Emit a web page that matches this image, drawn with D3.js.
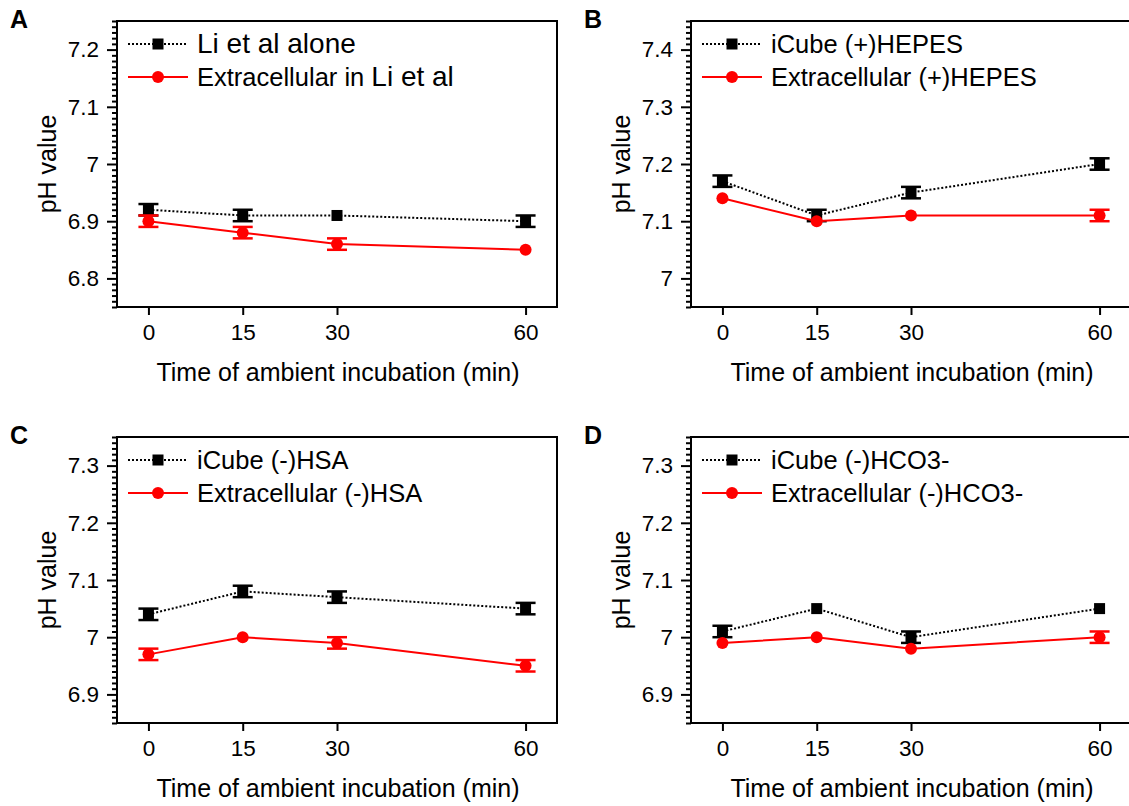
<!DOCTYPE html>
<html>
<head>
<meta charset="utf-8">
<script src="https://cdn.jsdelivr.net/npm/d3@7"></script>
<style>
  body { margin: 0; background: #fff; }
  svg { display: block; }
  text { font-family: "Liberation Sans", Arial, sans-serif; fill: #000; }
</style>
</head>
<body>
<svg id="fig" width="1129" height="806"></svg>
<script>
// Sampling times (min)
const times = [0, 15, 30, 60];

// Panel letters, legend names and y ranges
const panelLetters = ["A", "B", "C", "D"];
const cellNames = ["Li et al alone", "iCube (+)HEPES", "iCube (-)HSA", "iCube (-)HCO3-"];
const mediumNames = ["Extracellular in Li et al", "Extracellular (+)HEPES", "Extracellular (-)HSA", "Extracellular (-)HCO3-"];
const yLow = [6.75, 6.95, 6.85, 6.85];
const yHigh = [7.25, 7.45, 7.35, 7.35];

// pH means and error bars for each condition
const cellA = [6.92, 6.91, 6.91, 6.90];
const cellAErr = [0.01, 0.01, 0, 0.01];
const mediumA = [6.90, 6.88, 6.86, 6.85];
const mediumAErr = [0.01, 0.01, 0.01, 0];

const cellB = [7.17, 7.11, 7.15, 7.20];
const cellBErr = [0.01, 0.01, 0.01, 0.01];
const mediumB = [7.14, 7.10, 7.11, 7.11];
const mediumBErr = [0, 0, 0, 0.01];

const cellC = [7.04, 7.08, 7.07, 7.05];
const cellCErr = [0.01, 0.01, 0.01, 0.01];
const mediumC = [6.97, 7.00, 6.99, 6.95];
const mediumCErr = [0.01, 0, 0.01, 0.01];

const cellD = [7.01, 7.05, 7.00, 7.05];
const cellDErr = [0.01, 0, 0.01, 0];
const mediumD = [6.99, 7.00, 6.98, 7.00];
const mediumDErr = [0, 0, 0, 0.01];

const xTitle = "Time of ambient incubation (min)";
const yTitle = "pH value";

const cellSeries = [cellA, cellB, cellC, cellD];
const cellErrs = [cellAErr, cellBErr, cellCErr, cellDErr];
const mediumSeries = [mediumA, mediumB, mediumC, mediumD];
const mediumErrs = [mediumAErr, mediumBErr, mediumCErr, mediumDErr];

// Layout
const panelOrigins = [[117, 21], [691, 21], [117, 437], [691, 437]];
const PW = 440, PH = 286;
const RED = "#ff0000";
const fmt = d => String(+d.toFixed(2));

const svg = d3.select("#fig");
svg.append("rect").attr("width", 1129).attr("height", 806).attr("fill", "#fff");

panelLetters.forEach((letter, i) => {
  const [ox, oy] = panelOrigins[i];
  const g = svg.append("g").attr("transform", `translate(${ox},${oy})`);

  const x = d3.scaleLinear().domain([-5, 65]).range([0, PW]);
  const y = d3.scaleLinear().domain([yLow[i], yHigh[i]]).range([PH, 0]);

  // Panel letter
  svg.append("text")
    .attr("x", ox - 107).attr("y", oy + 7)
    .attr("font-size", 25).attr("font-weight", "bold")
    .text(letter);

  // Y ticks: majors every 0.1, minors every 0.01
  const major = d3.range(Math.ceil(yLow[i] * 10 - 1e-9), Math.floor(yHigh[i] * 10 + 1e-9) + 1).map(v => v / 10);
  const minor = d3.range(Math.round(yLow[i] * 100), Math.round(yHigh[i] * 100) + 1)
    .map(v => v / 100)
    .filter(v => !major.some(m => Math.abs(m - v) < 1e-9));

  const yMinor = g.append("g").call(d3.axisLeft(y).tickValues(minor).tickSize(5).tickFormat(""));
  const yMajor = g.append("g").call(d3.axisLeft(y).tickValues(major).tickSize(10).tickPadding(8).tickFormat(fmt));
  [yMinor, yMajor].forEach(a => {
    a.select(".domain").remove();
    a.selectAll("line").attr("stroke", "#000").attr("stroke-width", 2);
  });
  yMajor.selectAll("text").attr("font-size", 22.5).attr("font-family", "Liberation Sans, Arial, sans-serif");

  // X ticks at sampling times
  const xAxis = g.append("g").attr("transform", `translate(0,${PH})`)
    .call(d3.axisBottom(x).tickValues(times).tickSize(8).tickPadding(9));
  xAxis.select(".domain").remove();
  xAxis.selectAll("line").attr("stroke", "#000").attr("stroke-width", 2);
  xAxis.selectAll("text").attr("font-size", 22.5).attr("font-family", "Liberation Sans, Arial, sans-serif");

  // Frame
  g.append("rect").attr("x", 0).attr("y", 0).attr("width", PW).attr("height", PH)
    .attr("fill", "none").attr("stroke", "#000").attr("stroke-width", 2);

  // Axis titles
  g.append("text")
    .attr("x", PW / 2 + 1).attr("y", PH + 74)
    .attr("text-anchor", "middle").attr("font-size", 25)
    .text(xTitle);
  g.append("text")
    .attr("transform", `translate(-61,${PH / 2}) rotate(-90)`)
    .attr("text-anchor", "middle").attr("font-size", 25)
    .text(yTitle);

  const line = d3.line().x((d, k) => x(times[k])).y(d => y(d));

  const drawSeries = (vals, errs, color, dashed, marker) => {
    g.append("path").datum(vals)
      .attr("d", line).attr("fill", "none")
      .attr("stroke", color).attr("stroke-width", 2)
      .attr("stroke-dasharray", dashed ? "2,2" : null);
    vals.forEach((v, k) => {
      const cx = x(times[k]);
      if (errs[k] > 0) {
        const y1 = y(v + errs[k]), y2 = y(v - errs[k]);
        g.append("line").attr("x1", cx).attr("x2", cx).attr("y1", y1).attr("y2", y2)
          .attr("stroke", color).attr("stroke-width", 2.5);
        [y1, y2].forEach(yy => g.append("line")
          .attr("x1", cx - 10).attr("x2", cx + 10).attr("y1", yy).attr("y2", yy)
          .attr("stroke", color).attr("stroke-width", 2.5));
      }
      marker(cx, y(v));
    });
  };
  const square = (cx, cy) => g.append("rect")
    .attr("x", cx - 5.5).attr("y", cy - 5.5).attr("width", 11).attr("height", 11).attr("fill", "#000");
  const circle = (cx, cy) => g.append("circle")
    .attr("cx", cx).attr("cy", cy).attr("r", 6).attr("fill", RED);

  drawSeries(cellSeries[i], cellErrs[i], "#000", true, square);
  drawSeries(mediumSeries[i], mediumErrs[i], RED, false, circle);

  // Legend
  const lg = g.append("g");
  const rows = [
    { name: cellNames[i], color: "#000", dashed: true, marker: "sq", yy: 23 },
    { name: mediumNames[i], color: RED, dashed: false, marker: "ci", yy: 56 }
  ];
  rows.forEach(r => {
    lg.append("line").attr("x1", 11).attr("x2", 71).attr("y1", r.yy).attr("y2", r.yy)
      .attr("stroke", r.color).attr("stroke-width", 2)
      .attr("stroke-dasharray", r.dashed ? "2,2" : null);
    if (r.marker === "sq") {
      lg.append("rect").attr("x", 35.5).attr("y", r.yy - 5.5).attr("width", 11).attr("height", 11).attr("fill", "#000");
    } else {
      lg.append("circle").attr("cx", 41).attr("cy", r.yy).attr("r", 6).attr("fill", RED);
    }
    const t = lg.append("text").attr("x", 80).attr("y", r.yy + 9).attr("font-size", 25.5);
    // "Li et al" is set in a slightly larger size
    const key = "Li et al";
    const pos = r.name.indexOf(key);
    if (pos < 0) {
      t.text(r.name);
    } else {
      if (pos > 0) t.append("tspan").text(r.name.slice(0, pos));
      t.append("tspan").attr("font-size", 28).text(r.name.slice(pos));
    }
  });
});
</script>
</body>
</html>
